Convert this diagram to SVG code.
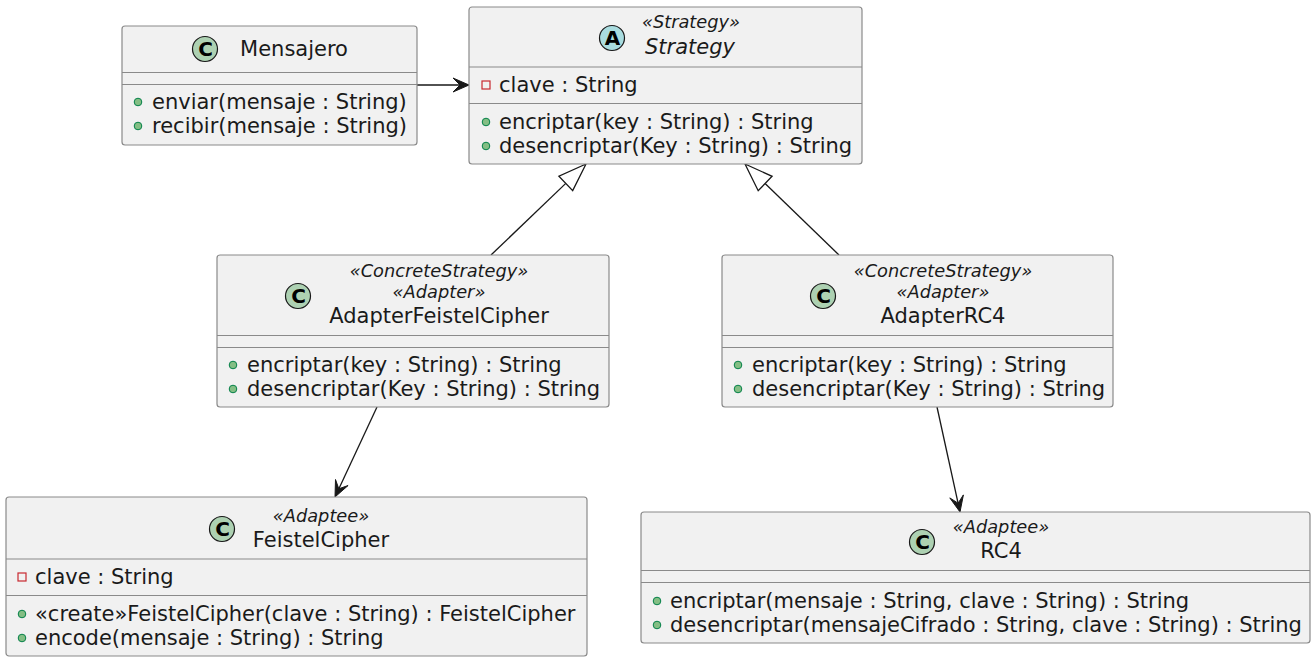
<svg xmlns="http://www.w3.org/2000/svg" width="1315" height="661" viewBox="0 0 1315 661">
<style>
.box{fill:#F1F1F1;stroke:#8a8a8a;stroke-width:1.2}
.sep{stroke:#8a8a8a;stroke-width:1.2}
.t{font-family:"DejaVu Sans",sans-serif;font-size:21px;fill:#1a1a1a}
.nm{font-family:"DejaVu Sans",sans-serif;font-size:21px;fill:#1a1a1a;text-anchor:middle}
.it{font-style:italic}
.st{font-family:"DejaVu Sans",sans-serif;font-size:17.8px;font-style:italic;fill:#1a1a1a;text-anchor:middle}
.cc{fill:#ADD1B2;stroke:#181818;stroke-width:1.2}
.ca{fill:#A9DCDF;stroke:#181818;stroke-width:1.2}
.cl{font-family:"DejaVu Sans",sans-serif;font-size:20px;font-weight:bold;fill:#000;text-anchor:middle}
.pub{fill:#84BE84;stroke:#038048;stroke-width:1}
.pri{fill:none;stroke:#C82930;stroke-width:1.2}
.ln{stroke:#181818;stroke-width:1.3;fill:none}
.ah{fill:#181818;stroke:#181818;stroke-width:1}
.tri{fill:#FFFFFF;stroke:#181818;stroke-width:1.3}
</style>
<rect width="1315" height="661" fill="#FFFFFF"/>

<g id="connectors">
  <line class="ln" x1="417" y1="85" x2="468" y2="85"/>
  <polygon class="ah" points="469,85 453,78 460,85 453,92"/>
  <line class="ln" x1="491" y1="255" x2="565.8" y2="183.4"/>
  <polygon class="tri" points="586,164 572.7,190.6 558.9,176.2"/>
  <line class="ln" x1="839" y1="255" x2="765.1" y2="183.5"/>
  <polygon class="tri" points="745,164 758.2,190.7 772.1,176.3"/>
  <line class="ln" x1="377" y1="407" x2="335.5" y2="496"/>
  <polygon class="ah" points="335,497 348.1,485.5 338.8,488.8 335.5,479.5"/>
  <line class="ln" x1="937" y1="407" x2="959.8" y2="511"/>
  <polygon class="ah" points="960,512 949.8,497.9 958.1,503.2 963.4,494.9"/>
</g>

<g id="Mensajero">
  <rect class="box" x="122" y="26" width="295" height="119" rx="3"/>
  <circle class="cc" cx="205" cy="49" r="12.5"/>
  <text class="cl" x="205.5" y="56">C</text>
  <text class="nm" x="294" y="56">Mensajero</text>
  <line class="sep" x1="122" y1="72.5" x2="417" y2="72.5"/>
  <line class="sep" x1="122" y1="84.5" x2="417" y2="84.5"/>
  <circle class="pub" cx="138" cy="102" r="3.8"/>
  <text class="t" x="152" y="109">enviar(mensaje : String)</text>
  <circle class="pub" cx="138" cy="126" r="3.8"/>
  <text class="t" x="152" y="133">recibir(mensaje : String)</text>
</g>

<g id="Strategy">
  <rect class="box" x="469" y="7" width="393" height="157" rx="3"/>
  <circle class="ca" cx="612" cy="38" r="12.5"/>
  <text class="cl" x="612.5" y="45">A</text>
  <text class="st" x="691" y="28">«Strategy»</text>
  <text class="nm it" x="690" y="54">Strategy</text>
  <line class="sep" x1="469" y1="67" x2="862" y2="67"/>
  <rect class="pri" x="482" y="81" width="8" height="8"/>
  <text class="t" x="499" y="92">clave : String</text>
  <line class="sep" x1="469" y1="103.5" x2="862" y2="103.5"/>
  <circle class="pub" cx="486" cy="122" r="3.8"/>
  <text class="t" x="499" y="129">encriptar(key : String) : String</text>
  <circle class="pub" cx="486" cy="146" r="3.8"/>
  <text class="t" x="499" y="153">desencriptar(Key : String) : String</text>
</g>

<g id="AdapterFeistelCipher">
  <rect class="box" x="217" y="255" width="392" height="152" rx="3"/>
  <circle class="cc" cx="298" cy="296" r="12.5"/>
  <text class="cl" x="298.5" y="303">C</text>
  <text class="st" x="439" y="277">«ConcreteStrategy»</text>
  <text class="st" x="439" y="298">«Adapter»</text>
  <text class="nm" x="439" y="323">AdapterFeistelCipher</text>
  <line class="sep" x1="217" y1="335.5" x2="609" y2="335.5"/>
  <line class="sep" x1="217" y1="347.5" x2="609" y2="347.5"/>
  <circle class="pub" cx="233" cy="365" r="3.8"/>
  <text class="t" x="247" y="372">encriptar(key : String) : String</text>
  <circle class="pub" cx="233" cy="389" r="3.8"/>
  <text class="t" x="247" y="396">desencriptar(Key : String) : String</text>
</g>

<g id="AdapterRC4">
  <rect class="box" x="722" y="255" width="391" height="152" rx="3"/>
  <circle class="cc" cx="823" cy="296" r="12.5"/>
  <text class="cl" x="823.5" y="303">C</text>
  <text class="st" x="943" y="277">«ConcreteStrategy»</text>
  <text class="st" x="943" y="298">«Adapter»</text>
  <text class="nm" x="943" y="323">AdapterRC4</text>
  <line class="sep" x1="722" y1="335.5" x2="1113" y2="335.5"/>
  <line class="sep" x1="722" y1="347.5" x2="1113" y2="347.5"/>
  <circle class="pub" cx="738" cy="365" r="3.8"/>
  <text class="t" x="752" y="372">encriptar(key : String) : String</text>
  <circle class="pub" cx="738" cy="389" r="3.8"/>
  <text class="t" x="752" y="396">desencriptar(Key : String) : String</text>
</g>

<g id="FeistelCipher">
  <rect class="box" x="6" y="497" width="581" height="159" rx="3"/>
  <circle class="cc" cx="222" cy="529" r="12.5"/>
  <text class="cl" x="222.5" y="536">C</text>
  <text class="st" x="321" y="522">«Adaptee»</text>
  <text class="nm" x="321" y="547">FeistelCipher</text>
  <line class="sep" x1="6" y1="559" x2="587" y2="559"/>
  <rect class="pri" x="18" y="573" width="8" height="8"/>
  <text class="t" x="35" y="584">clave : String</text>
  <line class="sep" x1="6" y1="595.5" x2="587" y2="595.5"/>
  <circle class="pub" cx="22" cy="614" r="3.8"/>
  <text class="t" x="35" y="621">«create»FeistelCipher(clave : String) : FeistelCipher</text>
  <circle class="pub" cx="22" cy="638" r="3.8"/>
  <text class="t" x="35" y="645">encode(mensaje : String) : String</text>
</g>

<g id="RC4">
  <rect class="box" x="641" y="512" width="669" height="131" rx="3"/>
  <circle class="cc" cx="922" cy="542" r="12.5"/>
  <text class="cl" x="922.5" y="549">C</text>
  <text class="st" x="1001" y="533">«Adaptee»</text>
  <text class="nm" x="1001" y="558">RC4</text>
  <line class="sep" x1="641" y1="570.5" x2="1310" y2="570.5"/>
  <line class="sep" x1="641" y1="582.5" x2="1310" y2="582.5"/>
  <circle class="pub" cx="657" cy="601" r="3.8"/>
  <text class="t" x="670" y="608">encriptar(mensaje : String, clave : String) : String</text>
  <circle class="pub" cx="657" cy="625" r="3.8"/>
  <text class="t" x="670" y="632">desencriptar(mensajeCifrado : String, clave : String) : String</text>
</g>
</svg>
